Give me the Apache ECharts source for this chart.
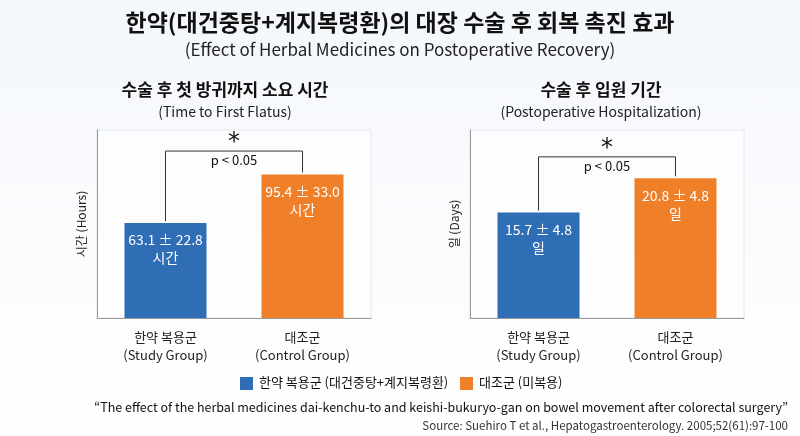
<!DOCTYPE html>
<html><head><meta charset="utf-8">
<script src="https://cdn.jsdelivr.net/npm/echarts@6/dist/echarts.min.js"></script>
<style>html,body{margin:0;padding:0;background:linear-gradient(#f4f7fb,#ffffff);}#c{width:800px;height:436px;}</style>
</head><body><div id="c"></div>
<script>
var categories = ['한약 복용군\n(Study Group)', '대조군\n(Control Group)'];
var flatusMean = [63.1, 95.4];
var flatusLabels = ['63.1 ± 22.8\n시간', '95.4 ± 33.0\n시간'];
var stayMean = [15.7, 20.8];
var stayLabels = ['15.7 ± 4.8\n일', '20.8 ± 4.8\n일'];
var colors = ['#2f6db5', '#f07f2a'];
var font = 'Noto Sans CJK KR';

var chart = echarts.init(document.getElementById('c'));

function bars(vals, labels, idx) {
  return {
    type: 'bar', xAxisIndex: idx, yAxisIndex: idx, barWidth: 82,
    data: vals.map(function (v, i) {
      return {value: v, itemStyle: {color: colors[i]},
        label: {show: true, position: 'insideTop', distance: 8, formatter: labels[i],
          color: '#fff', fontSize: 14, lineHeight: 18, fontFamily: font}};
    })
  };
}
function xAx(g) {
  return {gridIndex: g, type: 'category', data: categories,
    axisLine: {lineStyle: {color: '#999'}}, axisTick: {show: false},
    axisLabel: {color: '#222', fontSize: 13, lineHeight: 18, margin: 10, fontFamily: font}};
}
function yAx(g, max, name) {
  return {gridIndex: g, type: 'value', min: 0, max: max, name: name, nameLocation: 'middle', nameGap: 10,
    nameTextStyle: {color: '#222', fontSize: 12, fontFamily: font},
    axisLine: {show: true, lineStyle: {color: '#999'}}, axisLabel: {show: false}, splitLine: {show: false}};
}

chart.setOption({
  animation: false,
  title: [
    {text: '한약(대건중탕+계지복령환)의 대장 수술 후 회복 촉진 효과', left: 'center', top: 6,
      textStyle: {fontSize: 23, fontWeight: 'bold', color: '#111', fontFamily: font}},
    {text: '(Effect of Herbal Medicines on Postoperative Recovery)', left: 'center', top: 36,
      textStyle: {fontSize: 17, fontWeight: 'normal', color: '#222', fontFamily: font}},
    {text: '수술 후 첫 방귀까지 소요 시간', left: 220, textAlign: 'center', top: 76,
      textStyle: {fontSize: 17, fontWeight: 'bold', color: '#111', fontFamily: font}},
    {text: '(Time to First Flatus)', left: 220, textAlign: 'center', top: 100,
      textStyle: {fontSize: 14, fontWeight: 'normal', color: '#222', fontFamily: font}},
    {text: '수술 후 입원 기간', left: 596, textAlign: 'center', top: 76,
      textStyle: {fontSize: 17, fontWeight: 'bold', color: '#111', fontFamily: font}},
    {text: '(Postoperative Hospitalization)', left: 596, textAlign: 'center', top: 100,
      textStyle: {fontSize: 14, fontWeight: 'normal', color: '#222', fontFamily: font}}
  ],
  grid: [
    {left: 97, top: 130, width: 274, height: 188, show: true, borderColor: '#e3e6ea', backgroundColor: 'rgba(255,255,255,0.6)'},
    {left: 470, top: 130, width: 274, height: 188, show: true, borderColor: '#e3e6ea', backgroundColor: 'rgba(255,255,255,0.6)'}
  ],
  xAxis: [xAx(0), xAx(1)],
  yAxis: [yAx(0, 125, '시간 (Hours)'), yAx(1, 28, '일 (Days)')],
  series: [bars(flatusMean, flatusLabels, 0), bars(stayMean, stayLabels, 1)]
});

// significance brackets placed through the axes
function bracket(g, vals, topVal) {
  var a = chart.convertToPixel({gridIndex: g}, [0, vals[0]]);
  var b = chart.convertToPixel({gridIndex: g}, [1, vals[1]]);
  var t = chart.convertToPixel({gridIndex: g}, [0, topVal])[1];
  var mid = (a[0] + b[0]) / 2;
  return [
    {type: 'polyline', shape: {points: [[a[0], a[1] - 2], [a[0], t], [b[0], t], [b[0], b[1] - 2]]},
      style: {stroke: '#333', lineWidth: 1, fill: null}},
    {type: 'text', x: mid, y: t - 20, style: {text: '*', fontSize: 24, fill: '#111', align: 'center', fontFamily: 'DejaVu Sans'}},
    {type: 'text', x: mid, y: t + 3, style: {text: 'p < 0.05', fontSize: 13, fill: '#111', align: 'center', fontFamily: font}}
  ];
}

var legend = [
  {type: 'rect', shape: {x: 240, y: 377, width: 13, height: 13}, style: {fill: colors[0]}},
  {type: 'text', x: 259, y: 376, style: {text: '한약 복용군 (대건중탕+계지복령환)', fontSize: 13, fill: '#111', fontFamily: font}},
  {type: 'rect', shape: {x: 460, y: 377, width: 13, height: 13}, style: {fill: colors[1]}},
  {type: 'text', x: 479, y: 376, style: {text: '대조군 (미복용)', fontSize: 13, fill: '#111', fontFamily: font}},
  {type: 'text', x: 788, y: 401, style: {text: '“The effect of the herbal medicines dai-kenchu-to and keishi-bukuryo-gan on bowel movement after colorectal surgery”',
    fontSize: 12.5, fill: '#111', align: 'right', fontFamily: font}},
  {type: 'text', x: 788, y: 420, style: {text: 'Source: Suehiro T et al., Hepatogastroenterology. 2005;52(61):97-100',
    fontSize: 11.5, fill: '#333', align: 'right', fontFamily: font}}
];

chart.setOption({graphic: bracket(0, flatusMean, 111).concat(bracket(1, stayMean, 24)).concat(legend)});
</script></body></html>
